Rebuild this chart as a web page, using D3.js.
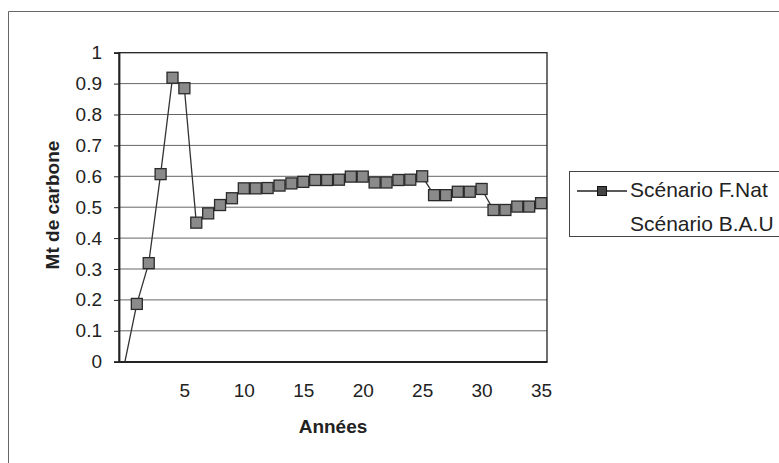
<!DOCTYPE html>
<html>
<head>
<meta charset="utf-8">
<script src="https://cdn.jsdelivr.net/npm/d3@7"></script>
<style>
    body { margin: 0; background: #fff; }
    svg { font-family: 'Liberation Sans', Arial, sans-serif; }
    .axis path, .axis line { stroke: #222; }
    .axis text { font-size: 19px; fill: #222; }
    .grid line { stroke: #666; stroke-width: 1; }
</style>
</head>
<body>
<svg class="chart"></svg>
<script>
//DATA
const years = d3.range(0, 36);
const fnatValues = [0, 0.187, 0.319, 0.607, 0.919, 0.885, 0.45, 0.48, 0.507, 0.529,
    0.561, 0.561, 0.562, 0.57, 0.577, 0.582, 0.588, 0.588, 0.589, 0.599,
    0.599, 0.58, 0.58, 0.588, 0.589, 0.6, 0.539, 0.539, 0.55, 0.55,
    0.559, 0.491, 0.491, 0.502, 0.502, 0.513];
const yTicks = [0, 0.1, 0.2, 0.3, 0.4, 0.5, 0.6, 0.7, 0.8, 0.9, 1];
const xTicks = [5, 10, 15, 20, 25, 30, 35];
const seriesNames = ['Scénario F.Nat', 'Scénario B.A.U'];

//INITIALIZING CANVAS
const size = {w: 779, h: 463};
const plot = {left: 119, top: 52.7, right: 547, bottom: 361.7};

const svg = d3.select('svg.chart')
    .attr('width', size.w)
    .attr('height', size.h);

//OUTER FRAME
svg.append('path')
    .attr('d', `M8.5,${size.h} V11.5 H${size.w}`)
    .attr('fill', 'none')
    .attr('stroke', '#666')
    .attr('stroke-width', 1);

//SCALES
const x = d3.scaleLinear()
    .domain([-0.5, 35.5])
    .range([plot.left, plot.right]);

const y = d3.scaleLinear()
    .domain([0, 1])
    .range([plot.bottom, plot.top]);

//GRIDLINES
svg.append('g')
    .attr('class', 'grid')
    .selectAll('line')
    .data(yTicks.filter(d => d > 0 && d < 1))
    .enter()
    .append('line')
    .attr('x1', plot.left)
    .attr('x2', plot.right)
    .attr('y1', d => y(d))
    .attr('y2', d => y(d));

//PLOT BORDER
svg.append('rect')
    .attr('x', plot.left)
    .attr('y', plot.top)
    .attr('width', plot.right - plot.left)
    .attr('height', plot.bottom - plot.top)
    .attr('fill', 'none')
    .attr('stroke', '#222')
    .attr('stroke-width', 1.3);

//AXES
svg.append('g')
    .attr('class', 'axis')
    .attr('transform', `translate(${plot.left},0)`)
    .call(d3.axisLeft(y).tickValues(yTicks).tickSize(5).tickPadding(12).tickFormat(d => d))
    .call(g => g.select('.domain').attr('stroke-width', 1.8));

svg.append('g')
    .attr('class', 'axis')
    .attr('transform', `translate(0,${plot.bottom})`)
    .call(d3.axisBottom(x).tickValues(xTicks).tickSize(0).tickPadding(22))
    .call(g => g.select('.domain').attr('stroke-width', 1.8));

//AXIS TITLES
svg.append('text')
    .attr('transform', 'translate(52,205) rotate(-90)')
    .attr('text-anchor', 'middle')
    .attr('dominant-baseline', 'central')
    .style('font-size', '19px')
    .style('font-weight', 'bold')
    .style('fill', '#222')
    .text('Mt de carbone');

svg.append('text')
    .attr('x', (plot.left + plot.right) / 2)
    .attr('y', 433)
    .attr('text-anchor', 'middle')
    .style('font-size', '19px')
    .style('font-weight', 'bold')
    .style('fill', '#222')
    .text('Années');

//SERIES LINE
const data = years.map((d, i) => ({year: d, value: fnatValues[i]}));

const line = d3.line()
    .x(d => x(d.year))
    .y(d => y(d.value));

svg.append('path')
    .datum(data)
    .attr('fill', 'none')
    .attr('stroke', '#333')
    .attr('stroke-width', 1.3)
    .attr('d', line);

//MARKERS
const mk = 11;
svg.append('g')
    .selectAll('rect')
    .data(data.filter(d => d.value > 0))
    .enter()
    .append('rect')
    .attr('x', d => x(d.year) - mk / 2)
    .attr('y', d => y(d.value) - mk / 2)
    .attr('width', mk)
    .attr('height', mk)
    .attr('fill', '#8a8a8a')
    .attr('stroke', '#2a2a2a')
    .attr('stroke-width', 1.3);

//LEGEND
const legend = svg.append('g');

legend.append('rect')
    .attr('x', 569.5)
    .attr('y', 171.5)
    .attr('width', 240)
    .attr('height', 65)
    .attr('fill', 'none')
    .attr('stroke', '#444');

legend.append('line')
    .attr('x1', 577).attr('x2', 627)
    .attr('y1', 191).attr('y2', 191)
    .attr('stroke', '#222')
    .attr('stroke-width', 1.5);

legend.append('rect')
    .attr('x', 602 - 4.5).attr('y', 191 - 4.5)
    .attr('width', 9).attr('height', 9)
    .attr('fill', '#444')
    .attr('stroke', '#111');

legend.selectAll('text.leg')
    .data(seriesNames)
    .enter()
    .append('text')
    .attr('class', 'leg')
    .attr('x', 630)
    .attr('y', (d, i) => 197 + i * 34)
    .style('font-size', '21px')
    .style('fill', '#222')
    .text(d => d);
</script>
</body>
</html>
